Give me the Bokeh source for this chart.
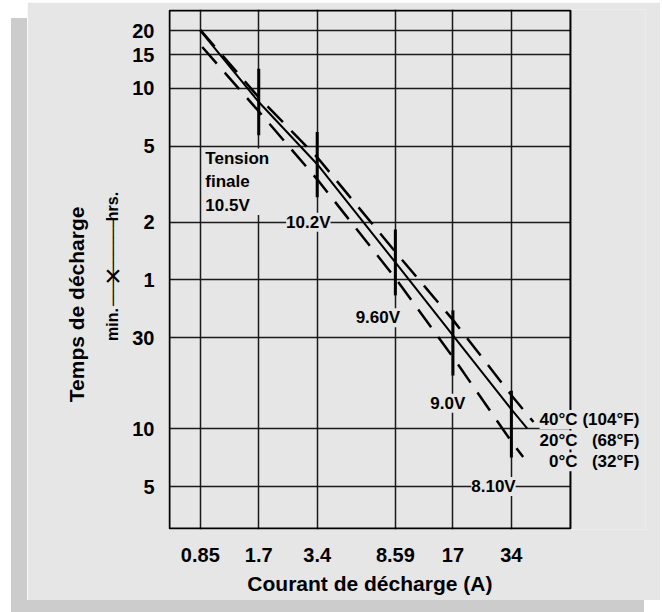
import math
from bokeh.plotting import figure
from bokeh.models import (FixedTicker, ColumnDataSource, LabelSet, Label,
                          BoxAnnotation)
from bokeh.core.properties import value
from bokeh.embed import file_html
from bokeh.resources import INLINE

FONT = "Liberation Sans"

# ---- axes ----
x_ticks = [0.85, 1.7, 3.4, 8.59, 17, 34]
x_tick_labels = ["0.85", "1.7", "3.4", "8.59", "17", "34"]
y_ticks_min = [1200, 900, 600, 300, 120, 60, 30, 10, 5]          # minutes
y_tick_labels = ["20", "15", "10", "5", "2", "1", "30", "10", "5"]
x_lim = (0.59, 68.5)        # chart box, amperes
y_lim = (3.02, 1530)        # chart box, minutes

# ---- discharge curves (current A, time in minutes) ----
current_40 = [0.85, 1.7, 3.4, 8.59, 17, 34, 44.2]
minutes_40 = [1213, 538, 262, 84, 37.1, 15.0, 10.86]
current_20 = [0.85, 1.7, 3.4, 8.59, 17, 34, 41]
minutes_20 = [1200, 509, 241, 74, 30.8, 12.65, 10.06]
current_0 = [0.87, 1.7, 3.4, 8.59, 17, 34, 39.1]
minutes_0 = [986, 455, 201, 61.3, 23.7, 8.6, 7.13]

# ---- final voltage markers ----
mark_current = [1.7, 3.4, 8.59, 17, 34]
mark_top = [760, 355, 110, 41.6, 15.8]
mark_bottom = [341, 162, 49.8, 19.0, 7.1]

volt_text = ["10.2V", "9.60V", "9.0V", "8.10V"]
volt_x = [3.06, 6.98, 16.0, 27.5]
volt_y = [120, 38, 13.6, 5]

temp_c = ["40°C", "20°C", "0°C"]
temp_f = ["(104°F)", "(68°F)", "(32°F)"]
temp_y = [11.21, 8.74, 6.73]

p = figure(x_axis_type="log", y_axis_type="log",
           x_range=(0.583, 166.8), y_range=(2.984, 1548.5),
           width=633, height=598, frame_width=477, frame_height=520,
           min_border_left=141, min_border_right=15,
           min_border_top=7, min_border_bottom=71,
           output_backend="svg", toolbar_location=None,
           background_fill_color="#e6e6e6", border_fill_color="#e6e6e6",
           outline_line_color=None)
p.styles = {"margin-left": "27px", "margin-top": "2px",
            "box-shadow": "-16px 16px 0 0 #cccccc"}

# axes
p.xaxis.ticker = FixedTicker(ticks=x_ticks)
p.xaxis.major_label_overrides = dict(zip(x_ticks, x_tick_labels))
p.yaxis.ticker = FixedTicker(ticks=y_ticks_min)
p.yaxis.major_label_overrides = dict(zip(y_ticks_min, y_tick_labels))
for ax in (p.xaxis, p.yaxis):
    ax.axis_line_color = None
    ax.major_tick_line_color = None
    ax.minor_tick_line_color = None
    ax.major_label_text_font = FONT
    ax.major_label_text_font_style = "bold"
    ax.major_label_text_font_size = "20px"
    ax.major_label_text_color = "black"
p.xaxis.major_label_standoff = 12
p.yaxis.major_label_standoff = 8

p.grid.grid_line_color = "#1a1a1a"
p.grid.grid_line_width = 1.5
p.grid.minor_grid_line_color = None
try:
    p.ygrid.cross_bounds = x_lim
except Exception:
    p.ygrid.grid_line_color = None
    p.segment(x0=[x_lim[0]] * len(y_ticks_min), y0=y_ticks_min,
              x1=[x_lim[1]] * len(y_ticks_min), y1=y_ticks_min,
              line_color="#1a1a1a", line_width=1.5, level="underlay")

# chart box
p.add_layout(BoxAnnotation(left=x_lim[0], right=x_lim[1], bottom=y_lim[0], top=y_lim[1],
                           fill_color=None, fill_alpha=0, line_color="black",
                           line_alpha=1, line_width=2))

# curves
p.line(current_40, minutes_40, line_color="black", line_width=2.5, line_dash="22 12")
p.line(current_20, minutes_20, line_color="black", line_width=2)
p.line(current_0, minutes_0, line_color="black", line_width=2.5, line_dash="22 12")

# final voltage markers
p.segment(x0=mark_current, y0=mark_bottom, x1=mark_current, y1=mark_top,
          line_color="black", line_width=3)

vsrc = ColumnDataSource(dict(x=volt_x, y=volt_y, t=volt_text))
p.add_layout(LabelSet(x="x", y="y", text="t", source=vsrc,
                      text_font=value(FONT), text_font_style="bold",
                      text_font_size="17px", text_color="black",
                      text_align="center", text_baseline="middle",
                      background_fill_color="#e6e6e6"))

p.add_layout(Label(x=0.902, y=195, text="Tension\nfinale\n10.5V",
                   text_font=FONT, text_font_style="bold", text_font_size="17px",
                   text_color="black", text_align="left", text_baseline="middle",
                   text_line_height=1.25, background_fill_color="#e6e6e6"))

csrc = ColumnDataSource(dict(x=[74.5] * 3, y=temp_y, t=temp_c))
fsrc = ColumnDataSource(dict(x=[155] * 3, y=temp_y, t=temp_f))
for src in (csrc, fsrc):
    p.add_layout(LabelSet(x="x", y="y", text="t", source=src,
                          text_font=value(FONT), text_font_style="bold",
                          text_font_size="17px", text_color="black",
                          text_align="right", text_baseline="middle",
                          background_fill_color="#e6e6e6"))

# x axis title (below panel, so it is not clipped)
p.add_layout(Label(x=6.35, y=1.56, text="Courant de décharge (A)",
                   text_font=FONT, text_font_style="bold", text_font_size="21px",
                   text_color="black", text_align="center", text_baseline="middle"), "below")

# y axis title and min/hrs indicator (left panel, so they are not clipped)
def left_label(x, y, text, size, style="bold", font=FONT):
    p.add_layout(Label(x=x, y=y, text=text, angle=math.pi / 2,
                       text_font=font, text_font_style=style, text_font_size=size,
                       text_color="black", text_align="center", text_baseline="middle"), "left")

left_label(0.195, 44.7, "Temps de décharge", "21px")
left_label(0.301, 145, "hrs.", "16px")
left_label(0.301, 35.1, "min.", "16px")
left_label(0.3017, 73.5, "─" * 10, "14.3px", "normal", "DejaVu Sans Mono")
p.add_layout(Label(x=0.3017, y=63.3, text="×", text_font=FONT, text_font_size="30px",
                   text_color="black", text_align="center", text_baseline="middle"), "left")

open("out.html", "w").write(file_html(p, INLINE))
